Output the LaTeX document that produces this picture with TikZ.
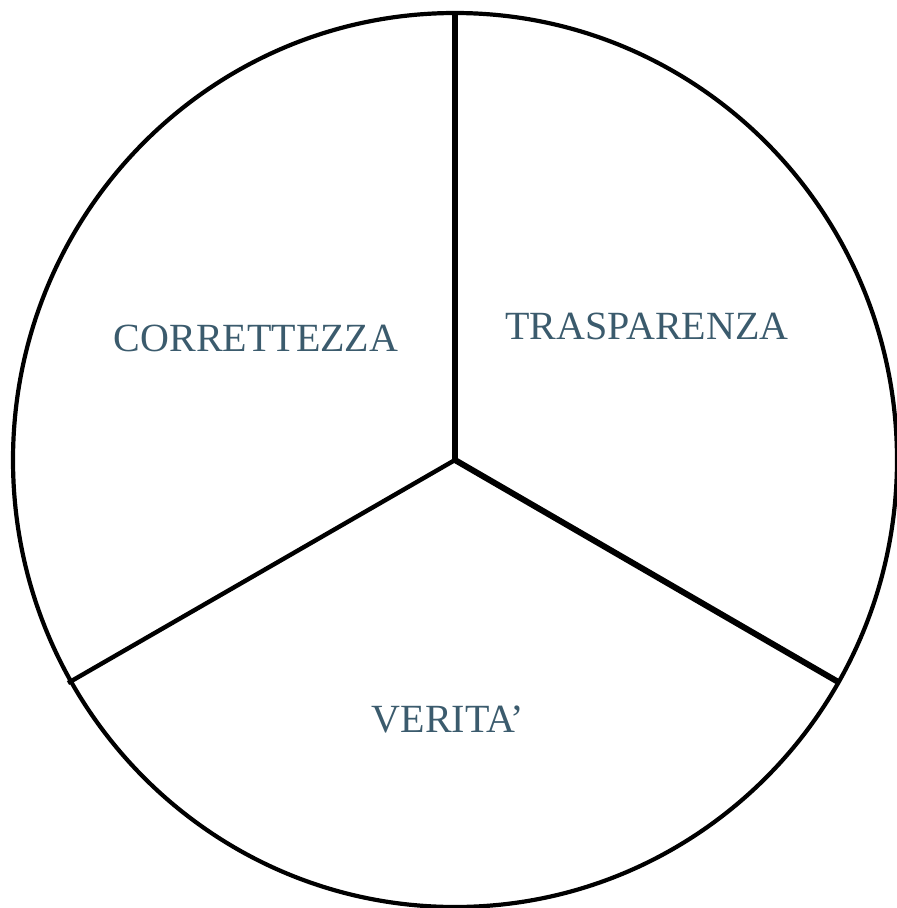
\documentclass[tikz,border=0pt]{standalone}
\usepackage{fontspec}
\setmainfont{Liberation Serif}
\definecolor{labelblue}{HTML}{3B5B6D}
\begin{document}
\begin{tikzpicture}[x=1pt,y=-1pt,
  rim/.style={line width=4.2pt,black},
  spoke/.style={line width=6pt,black},
  thinspoke/.style={line width=4.4pt,black},
  lbl/.style={text=labelblue,font=\fontsize{40}{42}\selectfont,anchor=base,inner sep=0pt}]
\useasboundingbox (0,0) rectangle (897,908);
\coordinate (c) at (455,460);
\coordinate (top) at (455,12);
\coordinate (r) at (840,683);
\coordinate (l) at (68,683);
\draw[rim] (c) ellipse [x radius=442, y radius=447];
\draw[spoke] (c) -- (top);
\draw[spoke] (c) -- (r);
\draw[thinspoke] (c) -- (l);
\node[lbl] (corr) at (256,351) {CORRETTEZZA};
\node[lbl] (tras) at (647,339) {TRASPARENZA};
\node[lbl] (ver) at (448,732) {VERITA’};
\end{tikzpicture}
\end{document}
